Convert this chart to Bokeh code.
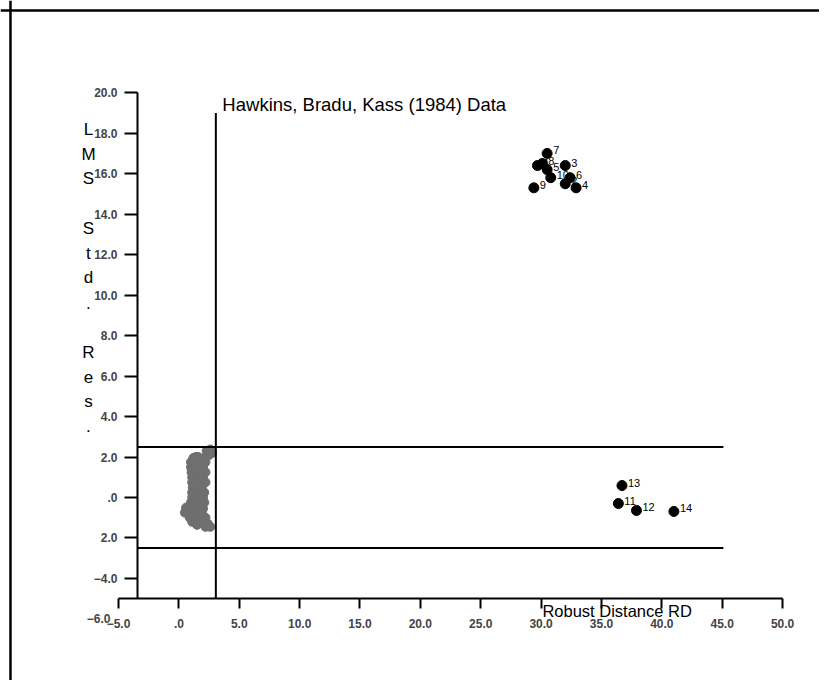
from bokeh.plotting import figure
from bokeh.models import Range1d, LinearAxis, FixedTicker, Label, ColumnDataSource, Span
from bokeh.embed import file_html
from bokeh.resources import INLINE
from bokeh.core.properties import value

# ---------------- data ----------------
title_text = "Hawkins, Bradu, Kass (1984) Data"
x_title = "Robust Distance RD"
y_title = "LMS Std. Res."

x_ticks = [-5, 0, 5, 10, 15, 20, 25, 30, 35, 40, 45, 50]
x_tick_labels = ["\u22125.0", ".0", "5.0", "10.0", "15.0", "20.0", "25.0", "30.0",
                 "35.0", "40.0", "45.0", "50.0"]
y_ticks = [-4, -2, 0, 2, 4, 6, 8, 10, 12, 14, 16, 18, 20]
y_tick_labels = ["\u22124.0", "2.0", ".0", "2.0", "4.0", "6.0", "8.0", "10.0",
                 "12.0", "14.0", "16.0", "18.0", "20.0"]
y_extra_ticks = [-6]
y_extra_labels = ["\u22126.0"]

# bad leverage points (1-10)
bad_ids = ["1", "2", "3", "4", "5", "6", "7", "8", "9", "10"]
bad_rd = [29.7, 32.0, 32.0, 32.9, 30.5, 32.4, 30.5, 30.1, 29.4, 30.8]
bad_res = [16.4, 15.5, 16.4, 15.3, 16.2, 15.8, 17.0, 16.5, 15.3, 15.8]

# good leverage points (11-14)
good_ids = ["11", "12", "13", "14"]
good_rd = [36.4, 37.9, 36.7, 41.0]
good_res = [-0.30, -0.64, 0.59, -0.69]

# regular observations (15-75)
reg_rd = [2.6, 2.3, 2.75, 2.5, 1.4,
          1.2, 1.6, 2.1,
          1.0, 1.4, 1.9, 2.2,
          1.0, 1.5, 2.0,
          1.05, 1.4, 1.8, 2.2,
          1.1, 1.5, 2.0, 1.8,
          1.1, 1.4, 1.7, 2.2,
          1.15, 1.5, 1.9,
          1.1, 1.4, 1.8, 2.1,
          1.1, 1.5, 2.0, 1.3,
          1.0, 1.3, 1.7, 2.1,
          0.6, 1.0, 1.6, 2.0,
          0.5, 0.8, 1.3, 1.9, 0.6,
          0.9, 1.2, 1.7, 2.2,
          1.1, 1.6, 2.4, 1.5,
          2.2, 2.6]
reg_res = [2.37, 2.3, 2.2, 2.1, 2.0,
           1.95, 2.0, 1.95,
           1.75, 1.7, 1.8, 1.75,
           1.5, 1.45, 1.5,
           1.25, 1.2, 1.3, 1.25,
           1.0, 1.0, 0.95, 1.1,
           0.75, 0.7, 0.8, 0.75,
           0.5, 0.5, 0.45,
           0.25, 0.2, 0.3, 0.25,
           0.0, 0.05, 0.0, -0.1,
           -0.25, -0.3, -0.2, -0.25,
           -0.5, -0.5, -0.45, -0.55,
           -0.75, -0.7, -0.8, -0.75, -0.6,
           -1.0, -1.0, -1.05, -1.0,
           -1.2, -1.2, -1.3, -1.35,
           -1.45, -1.45]

res_cutoff = 2.5
rd_cutoff = 3.06

# ---------------- figure ----------------
W, H = 819, 680
p = figure(width=W, height=H, output_backend="svg", toolbar_location=None,
           x_axis_type=None, y_axis_type=None,
           x_range=Range1d(-14.777, 53.06), y_range=Range1d(-9.042, 24.555),
           min_border_left=0, min_border_right=0, min_border_top=0, min_border_bottom=0)
p.outline_line_color = None
p.background_fill_color = "white"
p.border_fill_color = "white"

# page frame (top and left edges only)
p.add_layout(Span(location=24.06, dimension="width", line_color="black", line_width=2.5))
p.add_layout(Span(location=-13.95, dimension="height", line_color="black", line_width=2.5))

yaxis_x = -3.43
tick_font = "Liberation Sans"


def style_axis(ax, tick_out, standoff):
    ax.axis_line_width = 2
    ax.major_tick_line_width = 2
    ax.major_tick_out = tick_out
    ax.major_tick_in = 0
    ax.minor_tick_line_color = None
    ax.major_label_text_font = tick_font
    ax.major_label_text_font_size = "12px"
    ax.major_label_text_font_style = "bold"
    ax.major_label_standoff = standoff


xaxis = LinearAxis(fixed_location=-5, bounds=(-5, 50),
                   ticker=FixedTicker(ticks=x_ticks),
                   major_label_overrides=dict(zip(x_ticks, x_tick_labels)))
style_axis(xaxis, 10, 10)
p.add_layout(xaxis, "below")

yaxis = LinearAxis(fixed_location=yaxis_x, bounds=(-5, 20),
                   ticker=FixedTicker(ticks=y_ticks),
                   major_label_overrides=dict(zip(y_ticks, y_tick_labels)))
style_axis(yaxis, 13, 7)
p.add_layout(yaxis, "left")

yaxis2 = LinearAxis(fixed_location=yaxis_x,
                    ticker=FixedTicker(ticks=y_extra_ticks),
                    major_label_overrides=dict(zip(y_extra_ticks, y_extra_labels)))
style_axis(yaxis2, 13, 14)
yaxis2.axis_line_color = None
yaxis2.major_tick_line_color = None
p.add_layout(yaxis2, "left")

# points
p.scatter(reg_rd, reg_res, size=9, color="#6f6f6f")
p.scatter(bad_rd, bad_res, size=10, color="black")
p.scatter(good_rd, good_res, size=10, color="black")

lab = ColumnDataSource(dict(x=bad_rd + good_rd, y=bad_res + good_res, t=bad_ids + good_ids))
p.text(x="x", y="y", text="t", source=lab, x_offset=6, y_offset=-3,
       text_align="left", text_baseline="middle",
       text_font=value("Liberation Sans"), text_font_size="11px", text_color="#000000")

# cutoff lines
p.segment(x0=[yaxis_x, yaxis_x], y0=[res_cutoff, -res_cutoff],
          x1=[45.1, 45.1], y1=[res_cutoff, -res_cutoff], line_color="black", line_width=2)
p.segment(x0=[rd_cutoff], y0=[-5], x1=[rd_cutoff], y1=[19.0], line_color="black", line_width=2)

# titles
p.add_layout(Label(x=3.6, y=19.42, text=title_text, text_align="left",
                   text_baseline="alphabetic", text_font="Liberation Sans",
                   text_font_size="18.5px", text_color="black"))
p.add_layout(Label(x=36.3, y=-5.63, text=x_title, text_align="center",
                   text_baseline="alphabetic", text_font="Liberation Sans",
                   text_font_size="16.5px", text_color="black"))

# vertical stacked y title
for i, ch in enumerate(y_title):
    if ch == " ":
        continue
    base_px = 129 + i * 24.75
    yy = (497 - base_px) / 20.24
    p.add_layout(Label(x=-7.49, y=yy, text=ch, text_align="center",
                       text_baseline="alphabetic", text_font="Liberation Sans",
                       text_font_size="17px", text_color="black"))

open("out.html", "w").write(file_html(p, INLINE))
